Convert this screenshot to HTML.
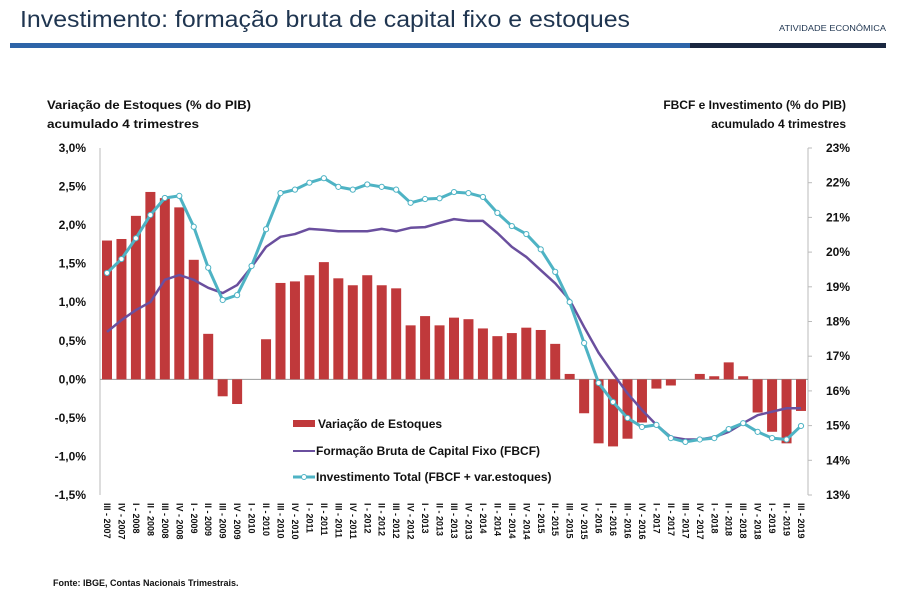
<!DOCTYPE html>
<html><head><meta charset="utf-8"><style>
body{margin:0;background:#fff;width:899px;height:591px;overflow:hidden}
svg{display:block}
text{font-family:"Liberation Sans",sans-serif}
</style></head><body>
<svg id="chart" width="899" height="591" viewBox="0 0 899 591" xmlns="http://www.w3.org/2000/svg">
<text x="20" y="27" font-size="23" fill="#1f3550" textLength="610" lengthAdjust="spacingAndGlyphs">Investimento: formação bruta de capital fixo e estoques</text>
<text x="886" y="31" font-size="8" fill="#1f3550" text-anchor="end" textLength="107" lengthAdjust="spacingAndGlyphs">ATIVIDADE ECONÔMICA</text>
<rect x="10" y="43" width="680" height="5" fill="#2e64a8"/>
<rect x="690" y="43" width="196" height="5" fill="#1a2740"/>
<text font-size="12" font-weight="bold" fill="#111"><tspan x="47" y="109" textLength="204" lengthAdjust="spacingAndGlyphs">Variação de Estoques (% do PIB)</tspan><tspan x="47" y="128" textLength="152" lengthAdjust="spacingAndGlyphs">acumulado 4 trimestres</tspan></text>
<text font-size="12" font-weight="bold" fill="#111" text-anchor="end"><tspan x="846" y="109">FBCF e Investimento (% do PIB)</tspan><tspan x="846" y="128">acumulado 4 trimestres</tspan></text>
<g id="plot"></g>
<g>
<rect x="293" y="420" width="22" height="7" fill="#c0393b"/>
<text x="318" y="428" font-size="12" font-weight="bold" fill="#111">Variação de Estoques</text>
<line x1="293" y1="451" x2="315" y2="451" stroke="#6a4f9e" stroke-width="2"/>
<text x="316" y="455" font-size="12" font-weight="bold" fill="#111">Formação Bruta de Capital Fixo (FBCF)</text>
<line x1="293" y1="477" x2="315" y2="477" stroke="#4eb3c4" stroke-width="3"/>
<circle cx="304" cy="477" r="2.5" fill="#fff" stroke="#4eb3c4" stroke-width="1"/>
<text x="316" y="481" font-size="12" font-weight="bold" fill="#111">Investimento Total (FBCF + var.estoques)</text>
</g>
<text x="53" y="586" font-size="9" font-weight="bold" fill="#111">Fonte: IBGE, Contas Nacionais Trimestrais.</text>
</svg>
<script>
const categories = ["III - 2007","IV - 2007","I - 2008","II - 2008","III - 2008","IV - 2008","I - 2009","II - 2009","III - 2009","IV - 2009","I - 2010","II - 2010","III - 2010","IV - 2010","I - 2011","II - 2011","III - 2011","IV - 2011","I - 2012","II - 2012","III - 2012","IV - 2012","I - 2013","II - 2013","III - 2013","IV - 2013","I - 2014","II - 2014","III - 2014","IV - 2014","I - 2015","II - 2015","III - 2015","IV - 2015","I - 2016","II - 2016","III - 2016","IV - 2016","I - 2017","II - 2017","III - 2017","IV - 2017","I - 2018","II - 2018","III - 2018","IV - 2018","I - 2019","II - 2019","III - 2019"];
const stocks = [1.80,1.82,2.12,2.43,2.35,2.23,1.55,0.59,-0.22,-0.32,0.0,0.52,1.25,1.27,1.35,1.52,1.31,1.22,1.35,1.22,1.18,0.70,0.82,0.70,0.80,0.78,0.66,0.56,0.60,0.67,0.64,0.46,0.07,-0.44,-0.83,-0.87,-0.77,-0.56,-0.12,-0.08,0.0,0.07,0.04,0.22,0.04,-0.43,-0.68,-0.83,-0.41];
const fbcf = [17.7,18.04,18.33,18.56,19.2,19.34,19.2,18.97,18.82,19.05,19.57,20.15,20.44,20.52,20.67,20.64,20.6,20.6,20.6,20.67,20.6,20.7,20.72,20.84,20.95,20.9,20.9,20.55,20.15,19.86,19.48,19.1,18.62,17.84,17.1,16.5,15.93,15.45,15.02,14.67,14.6,14.6,14.67,14.82,15.07,15.3,15.4,15.5,15.5];
const invest = [19.4,19.8,20.4,21.07,21.56,21.62,20.73,19.55,18.62,18.76,19.6,20.66,21.7,21.8,22.0,22.13,21.88,21.8,21.95,21.88,21.8,21.42,21.53,21.55,21.73,21.7,21.59,21.13,20.75,20.52,20.08,19.43,18.56,17.38,16.23,15.68,15.22,14.96,15.02,14.64,14.53,14.6,14.64,14.9,15.07,14.82,14.64,14.6,14.99];
const leftTicks = ["3,0%","2,5%","2,0%","1,5%","1,0%","0,5%","0,0%","-0,5%","-1,0%","-1,5%"];
const leftTickValues = [3,2.5,2,1.5,1,0.5,0,-0.5,-1,-1.5];
const rightTicks = ["23%","22%","21%","20%","19%","18%","17%","16%","15%","14%","13%"];
const rightTickValues = [23,22,21,20,19,18,17,16,15,14,13];

const NS="http://www.w3.org/2000/svg";
const plotG=document.getElementById('plot');
const yTop=148,yBot=495,xl=100,xr=808;
const yL=v=>yTop+(3-v)/4.5*(yBot-yTop);
const yR=v=>yTop+(23-v)/10*(yBot-yTop);
const xC=i=>107+i*(801-107)/(categories.length-1);
function mk(tag,attrs){const e=document.createElementNS(NS,tag);for(const k in attrs)e.setAttribute(k,attrs[k]);plotG.appendChild(e);return e;}

let el0=mk('line',{x1:xl,y1:yTop,x2:xl,y2:yBot,stroke:'#bbb','stroke-width':1});


el0=mk('line',{x1:xr,y1:yTop,x2:xr,y2:yBot,stroke:'#bbb','stroke-width':1});


leftTicks.forEach((t,i)=>{
  const y=yL(leftTickValues[i]);
  const el=mk('text',{x:86,y:y+4,'font-size':12,'font-weight':'bold','text-anchor':'end',fill:'#111'});
  el.textContent=t;
  
  
});
rightTicks.forEach((t,i)=>{
  const y=yR(rightTickValues[i]);
  const tk=mk('line',{x1:xr,y1:y,x2:xr+4,y2:y,stroke:'#bbb'});
  
  
  const el=mk('text',{x:850,y:y+4,'font-size':12,'font-weight':'bold','text-anchor':'end',fill:'#111'});
  el.textContent=t;
  
  
});
const y0=yL(0);
el0=mk('line',{x1:xl,y1:y0,x2:xr,y2:y0,stroke:'#999','stroke-width':1});


stocks.forEach((v,i)=>{
  const y=yL(v);
  const b=mk('rect',{x:xC(i)-5,y:Math.min(y,y0),width:10,height:Math.abs(y-y0),fill:'#c0393b'});
  
  
});
const pf=fbcf.map((v,i)=>xC(i)+','+yR(v)).join(' ');
el0=mk('polyline',{points:pf,fill:'none',stroke:'#6a4f9e','stroke-width':2.5,'stroke-linejoin':'round'});


const pi=invest.map((v,i)=>xC(i)+','+yR(v)).join(' ');
el0=mk('polyline',{points:pi,fill:'none',stroke:'#4eb3c4','stroke-width':3,'stroke-linejoin':'round'});


invest.forEach((v,i)=>{
  const c=mk('circle',{cx:xC(i),cy:yR(v),r:2.6,fill:'#fff',stroke:'#4eb3c4','stroke-width':1});
  
  
});
categories.forEach((t,i)=>{
  const x=xC(i)-3;
  const el=mk('text',{x:0,y:0,'font-size':9,'font-weight':'bold',fill:'#111',transform:`translate(${x},503) rotate(90)`});
  el.textContent=t;
  
  
});
</script>
</body></html>
